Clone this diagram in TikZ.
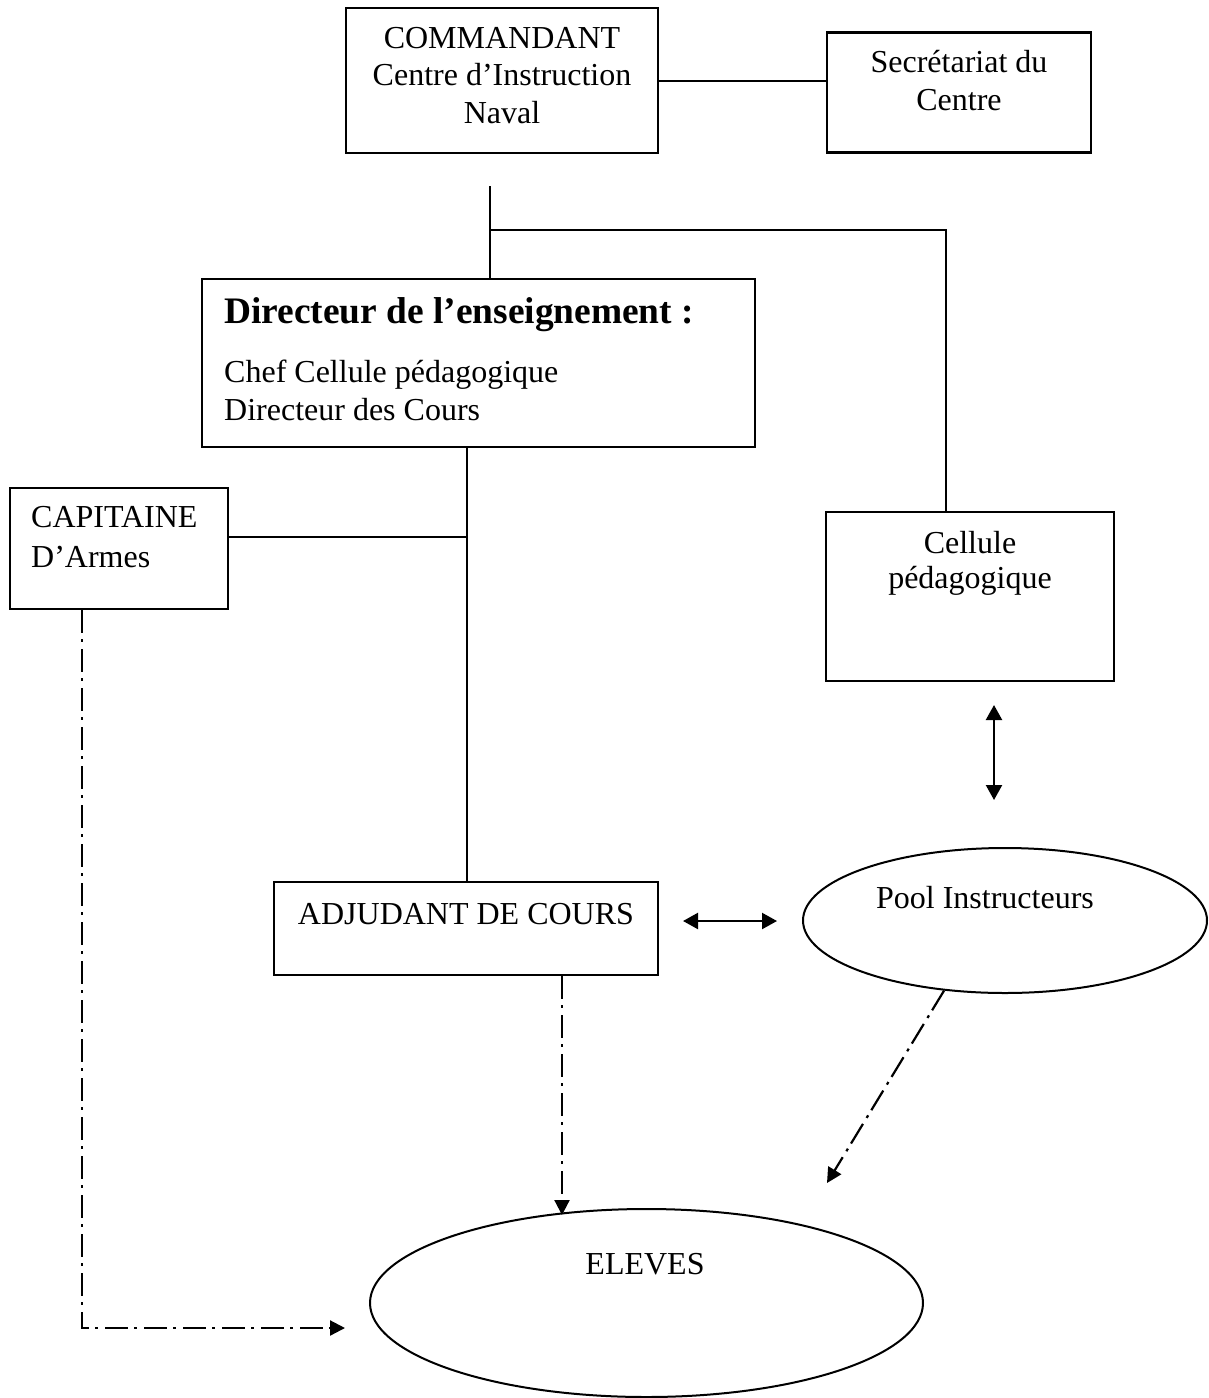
\documentclass[tikz,border=0pt]{standalone}
\usepackage{fontspec}
\setmainfont{Liberation Serif}
\usetikzlibrary{arrows.meta,shapes.geometric}
\begin{document}
\begin{tikzpicture}[x=1pt,y=-1pt,
  box/.style={draw,rectangle,line width=2.2pt,inner sep=0pt,anchor=center},
  oval/.style={draw,ellipse,line width=2pt,inner sep=0pt,anchor=center},
  txt/.style={inner sep=0pt,font=\fontsize{32}{37.5}\selectfont},
  conn/.style={line width=2pt},
  dd/.style={line width=2.2pt,dash pattern=on 23pt off 6pt on 3pt off 7pt,-{Triangle[length=15pt,width=15pt]}},
  dbl/.style={line width=2.2pt,{Triangle[length=15pt,width=16pt]}-{Triangle[length=15pt,width=16pt]}}]
\useasboundingbox (0,0) rectangle (1209,1398);
% boxes
\node[box,minimum width=312pt,minimum height=145pt] (cmd) at (502,80.5) {};
\node[box,minimum width=264pt,minimum height=120pt] (sec) at (959,92.5) {};
\node[box,minimum width=553pt,minimum height=168pt] (dir) at (478.5,363) {};
\node[box,minimum width=218pt,minimum height=121pt] (cap) at (119,548.5) {};
\node[box,minimum width=288pt,minimum height=169pt] (cel) at (970,596.5) {};
\node[box,minimum width=384pt,minimum height=93pt] (adj) at (466,928.5) {};
\node[oval,minimum width=404pt,minimum height=145pt] (pool) at (1005,920.5) {};
\node[oval,minimum width=553pt,minimum height=188pt] (elv) at (646.5,1303) {};
% texts
\node[txt,anchor=base] (cmd1) at (502,48) {COMMANDANT};
\node[txt,anchor=base] (cmd2) at (502,85.5) {Centre d’Instruction};
\node[txt,anchor=base] (cmd3) at (502,123) {Naval};
\node[txt,anchor=base] (sec1) at (959,72) {Secrétariat du};
\node[txt,anchor=base] (sec2) at (959,110) {Centre};
\node[inner sep=0pt,anchor=base west,font=\fontsize{37.4}{40}\selectfont\bfseries] (dir1) at (224,323) {Directeur de l’enseignement :};
\node[txt,anchor=base west] (dir2) at (224,382) {Chef Cellule pédagogique};
\node[txt,anchor=base west] (dir3) at (224,420) {Directeur des Cours};
\node[txt,anchor=base west] (cap1) at (31,527) {CAPITAINE};
\node[txt,anchor=base west] (cap2) at (31,567) {D’Armes};
\node[txt,anchor=base] (cel1) at (970,553) {Cellule};
\node[txt,anchor=base] (cel2) at (970,588) {pédagogique};
\node[txt,anchor=base] (adj1) at (466,924) {ADJUDANT DE COURS};
\node[txt,anchor=base] (pool1) at (985,908) {Pool Instructeurs};
\node[txt,anchor=base] (elv1) at (645,1274) {ELEVES};
% coordinates
\coordinate (t1) at (490,186);
\coordinate (j1) at (490,230);
\coordinate (j1r) at (946,230);
\coordinate (j2) at (467,537);
\coordinate (v1) at (994,705);
\coordinate (v2) at (994,800);
\coordinate (h1) at (683,921);
\coordinate (h2) at (777,921);
\coordinate (a1) at (562,1215);
\coordinate (p2) at (827,1183);
\coordinate (c1) at (82,1328);
\coordinate (c2) at (345,1328);
% solid connectors
\draw[conn] (cmd.east) -- (cmd.east -| sec.west);
\draw[conn] (t1) -- (t1 |- dir.north);
\draw[conn] (j1) -- (j1r) -- (j1r |- cel.north);
\draw[conn] (j2 |- dir.south) -- (j2 |- adj.north);
\draw[conn] (cap.east |- j2) -- (j2);
% double arrows
\draw[dbl] (v1) -- (v2);
\draw[dbl] (h1) -- (h2);
% dash-dot arrows
\draw[dd] (a1 |- adj.south) -- (a1);
\draw[dd] (pool.229) -- (p2);
\draw[dd] (c1 |- cap.south) -- (c1) -- (c2);
\end{tikzpicture}
\end{document}
